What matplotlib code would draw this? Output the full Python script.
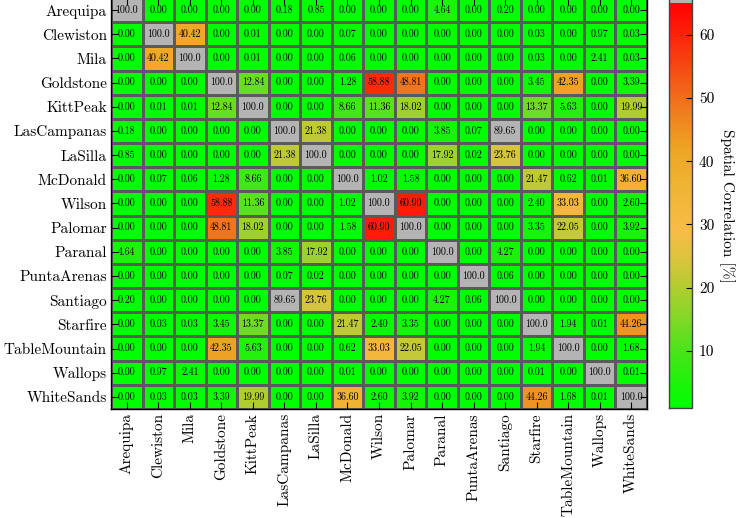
import numpy as np
import matplotlib
matplotlib.use("Agg")
import matplotlib.pyplot as plt
from matplotlib.colors import LinearSegmentedColormap, Normalize

plt.rcParams['font.family'] = ['cmr10', 'DejaVu Serif']
plt.rcParams['mathtext.fontset'] = 'cm'
plt.rcParams['axes.unicode_minus'] = False

stations = ["Arequipa", "Clewiston", "Mila", "Goldstone", "KittPeak", "LasCampanas",
            "LaSilla", "McDonald", "Wilson", "Palomar", "Paranal", "PuntaArenas",
            "Santiago", "Starfire", "TableMountain", "Wallops", "WhiteSands"]

row_arequipa = [100.0, 0.00, 0.00, 0.00, 0.00, 0.18, 0.85, 0.00, 0.00, 0.00, 4.64, 0.00, 0.20, 0.00, 0.00, 0.00, 0.00]
row_clewiston = [0.00, 100.0, 40.42, 0.00, 0.01, 0.00, 0.00, 0.07, 0.00, 0.00, 0.00, 0.00, 0.00, 0.03, 0.00, 0.97, 0.03]
row_mila = [0.00, 40.42, 100.0, 0.00, 0.01, 0.00, 0.00, 0.06, 0.00, 0.00, 0.00, 0.00, 0.00, 0.03, 0.00, 2.41, 0.03]
row_goldstone = [0.00, 0.00, 0.00, 100.0, 12.84, 0.00, 0.00, 1.28, 58.88, 48.81, 0.00, 0.00, 0.00, 3.45, 42.35, 0.00, 3.39]
row_kittpeak = [0.00, 0.01, 0.01, 12.84, 100.0, 0.00, 0.00, 8.66, 11.36, 18.02, 0.00, 0.00, 0.00, 13.37, 5.63, 0.00, 19.99]
row_lascampanas = [0.18, 0.00, 0.00, 0.00, 0.00, 100.0, 21.38, 0.00, 0.00, 0.00, 3.85, 0.07, 89.65, 0.00, 0.00, 0.00, 0.00]
row_lasilla = [0.85, 0.00, 0.00, 0.00, 0.00, 21.38, 100.0, 0.00, 0.00, 0.00, 17.92, 0.02, 23.76, 0.00, 0.00, 0.00, 0.00]
row_mcdonald = [0.00, 0.07, 0.06, 1.28, 8.66, 0.00, 0.00, 100.0, 1.02, 1.58, 0.00, 0.00, 0.00, 21.47, 0.62, 0.01, 36.60]
row_wilson = [0.00, 0.00, 0.00, 58.88, 11.36, 0.00, 0.00, 1.02, 100.0, 60.90, 0.00, 0.00, 0.00, 2.40, 33.03, 0.00, 2.60]
row_palomar = [0.00, 0.00, 0.00, 48.81, 18.02, 0.00, 0.00, 1.58, 60.90, 100.0, 0.00, 0.00, 0.00, 3.35, 22.05, 0.00, 3.92]
row_paranal = [4.64, 0.00, 0.00, 0.00, 0.00, 3.85, 17.92, 0.00, 0.00, 0.00, 100.0, 0.00, 4.27, 0.00, 0.00, 0.00, 0.00]
row_puntaarenas = [0.00, 0.00, 0.00, 0.00, 0.00, 0.07, 0.02, 0.00, 0.00, 0.00, 0.00, 100.0, 0.06, 0.00, 0.00, 0.00, 0.00]
row_santiago = [0.20, 0.00, 0.00, 0.00, 0.00, 89.65, 23.76, 0.00, 0.00, 0.00, 4.27, 0.06, 100.0, 0.00, 0.00, 0.00, 0.00]
row_starfire = [0.00, 0.03, 0.03, 3.45, 13.37, 0.00, 0.00, 21.47, 2.40, 3.35, 0.00, 0.00, 0.00, 100.0, 1.94, 0.01, 44.26]
row_tablemountain = [0.00, 0.00, 0.00, 42.35, 5.63, 0.00, 0.00, 0.62, 33.03, 22.05, 0.00, 0.00, 0.00, 1.94, 100.0, 0.00, 1.68]
row_wallops = [0.00, 0.97, 2.41, 0.00, 0.00, 0.00, 0.00, 0.01, 0.00, 0.00, 0.00, 0.00, 0.00, 0.01, 0.00, 100.0, 0.01]
row_whitesands = [0.00, 0.03, 0.03, 3.39, 19.99, 0.00, 0.00, 36.60, 2.60, 3.92, 0.00, 0.00, 0.00, 44.26, 1.68, 0.01, 100.0]

matrix = np.array([row_arequipa, row_clewiston, row_mila, row_goldstone, row_kittpeak,
                   row_lascampanas, row_lasilla, row_mcdonald, row_wilson, row_palomar,
                   row_paranal, row_puntaarenas, row_santiago, row_starfire,
                   row_tablemountain, row_wallops, row_whitesands])

cbar_ticks = [10, 20, 30, 40, 50, 60]
vmin, vmax = 1.0, 65.0

# custom green -> yellow -> orange -> red colormap
nodes = [(1, (0, 255, 0)), (5, (30, 242, 10)), (10, (75, 228, 25)), (15, (130, 215, 40)),
         (20, (178, 205, 48)), (25, (222, 195, 62)), (29, (248, 188, 72)),
         (36, (240, 180, 52)), (42, (238, 165, 35)), (50, (240, 110, 28)),
         (58, (250, 50, 14)), (65, (255, 0, 0))]
cmap = LinearSegmentedColormap.from_list(
    "corr", [((v - vmin) / (vmax - vmin), tuple(c / 255 for c in rgb)) for v, rgb in nodes])
cmap.set_over('#b4b4b4')
cmap.set_under('#00ff00')
norm = Normalize(vmin=vmin, vmax=vmax)

W, H = 755, 518
fig = plt.figure(figsize=(W / 100, H / 100), dpi=100)
ax = fig.add_axes([111 / W, (H - 409) / H, 536 / W, 411 / H])

n = len(stations)
mesh = ax.pcolormesh(np.arange(n + 1) - 0.5, np.arange(n + 1) - 0.5, matrix,
                     cmap=cmap, norm=norm, edgecolors='#5a5a5a', linewidth=0.9)
ax.set_xlim(-0.5, n - 0.5)
ax.set_ylim(n - 0.5, -0.5)

for i in range(n):
    for j in range(n):
        s = f"{matrix[i, j]:.2f}"[:5]
        ax.text(j, i, s, ha='center', va='center', fontsize=7.2, color='black')

ax.set_xticks(np.arange(n))
ax.set_yticks(np.arange(n))
ax.set_xticklabels(stations, rotation=90, fontsize=11)
ax.set_yticklabels(stations, fontsize=11)
ax.tick_params(direction='in', length=5, width=0.8, top=True, right=True,
               labeltop=False, labelright=False, pad=3)
for sp in ax.spines.values():
    sp.set_linewidth(1.0)
    sp.set_color('black')

# colorbar
cax = fig.add_axes([669 / W, (H - 408) / H, 23 / W, 418 / H])
cb = fig.colorbar(mesh, cax=cax, extend='max', extendrect=True, extendfrac=0.032)
cb.set_ticks(cbar_ticks)
cb.ax.tick_params(labelsize=11, length=4, width=0.8, direction='in', pad=5)
cb.outline.set_edgecolor('#444444')
cb.outline.set_linewidth(1.0)
cb.set_label("Spatial Correlation [%]", rotation=270, fontsize=11, labelpad=3,
             va='bottom')

fig.savefig("out.png", dpi=100)
